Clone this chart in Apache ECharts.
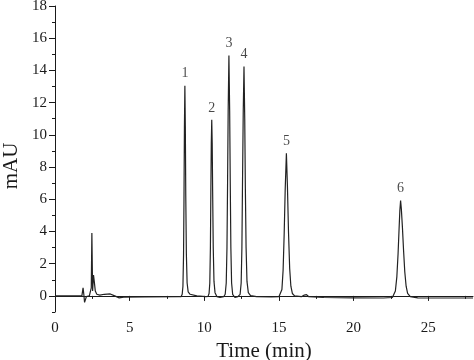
<!DOCTYPE html>
<html>
<head>
<meta charset="utf-8">
<script src="https://cdn.jsdelivr.net/npm/echarts@6/dist/echarts.min.js"></script>
<style>
html,body{margin:0;padding:0;background:#fff;}
#c{width:474px;height:360px;}
</style>
</head>
<body>
<div id="c"></div>
<script>
// Chromatogram trace: [time (min), signal (mAU)]
var trace = [
  [0,0],[1.8,0],[1.88,0.5],[1.93,0.1],[1.98,-0.4],[2.05,-0.2],[2.1,-0.05],[2.3,0.0],[2.38,-0.1],
  [2.43,0.5],[2.47,3.9],[2.52,0.3],[2.58,1.3],[2.63,0.9],[2.7,0.3],[2.8,0.1],[3.0,0.05],[3.3,0.1],
  [3.7,0.12],[4.0,0.0],[4.3,-0.12],[4.6,-0.08],[6,-0.07],[8.3,-0.05],
  [8.45,-0.04],[8.52,0.1],[8.57,0.6],[8.61,2.5],[8.64,6],[8.67,10.5],[8.7,13.05],[8.73,10.5],
  [8.76,6.2],[8.8,2.6],[8.85,0.8],[8.92,0.25],[9.05,0.1],[9.5,0.0],[10.1,-0.05],
  [10.25,-0.03],[10.32,0.15],[10.37,0.8],[10.41,3],[10.44,6.5],[10.47,9.5],[10.5,10.93],[10.53,9.5],
  [10.56,6.5],[10.6,3],[10.65,0.9],[10.72,0.2],[10.85,-0.05],[11.05,-0.1],[11.3,-0.05],
  [11.4,0.1],[11.47,0.8],[11.52,3],[11.56,7],[11.6,11.5],[11.65,14.93],[11.7,11.5],[11.74,7],
  [11.78,3],[11.83,0.8],[11.9,0.1],[12.05,-0.1],[12.25,-0.05],
  [12.4,0.1],[12.47,0.8],[12.52,3],[12.56,7],[12.61,11.5],[12.66,14.24],[12.71,11],[12.75,6.8],
  [12.8,3],[12.86,0.9],[12.95,0.2],[13.1,0.02],[13.5,-0.05],[14.5,-0.07],[15.0,-0.05],
  [15.1,0.05],[15.2,0.4],[15.28,1.6],[15.35,3.8],[15.42,6.6],[15.5,8.86],[15.57,6.8],[15.64,4],
  [15.72,1.7],[15.8,0.6],[15.9,0.15],[16.05,0.0],[16.5,-0.05],[16.7,0.05],[16.85,0.08],[17,-0.05],
  [18,-0.1],[20,-0.12],[22,-0.13],[22.6,-0.1],
  [22.7,0.0],[22.8,0.3],[22.9,1.2],[22.98,2.6],[23.05,4.2],[23.1,5.3],[23.15,5.92],[23.2,5.4],
  [23.27,4.3],[23.35,2.8],[23.43,1.5],[23.52,0.6],[23.62,0.15],[23.8,-0.05],[24.3,-0.12],
  [26,-0.13],[28,-0.13]
];
var peakNames = ['1','2','3','4','5','6'];
var peakTimes = [8.7, 10.5, 11.65, 12.66, 15.5, 23.15];
var peakHeights = [13.05, 10.93, 14.93, 14.24, 8.86, 5.92];
var xMajorTicks = [0,5,10,15,20,25];
var xMinorTicks = [2.5,7.5,12.5,17.5,22.5,27.5];
var yMajorTicks = [0,2,4,6,8,10,12,14,16,18];
var yMinorTicks = [-1,1,3,5,7,9,11,13,15,17];

var font = 'Liberation Serif';
var ink = '#1a1a1a';
var peakData = peakTimes.map(function(t,i){return {value:[t,peakHeights[i]], name:peakNames[i]};});

var chart = echarts.init(document.getElementById('c'), null, {renderer:'canvas'});
chart.setOption({
  animation:false,
  backgroundColor:'#fff',
  grid:{left:55,right:1,top:6,bottom:48,containLabel:false,outerBoundsMode:'none'},
  xAxis:[{
    type:'value', min:0, max:28,
    axisLine:{show:true,lineStyle:{color:ink,width:1}},
    axisTick:{show:true,length:5,customValues:xMajorTicks,lineStyle:{color:ink}},
    axisLabel:{customValues:xMajorTicks,color:ink,fontFamily:font,fontSize:15,margin:9},
    splitLine:{show:false},
    name:'Time (min)', nameLocation:'middle', nameGap:27,
    nameTextStyle:{color:ink,fontFamily:font,fontSize:21}
  },{
    type:'value', min:0, max:28, position:'bottom',
    axisLine:{show:false},
    axisTick:{show:true,length:3,customValues:xMinorTicks,lineStyle:{color:ink}},
    axisLabel:{show:false}, splitLine:{show:false}
  }],
  yAxis:[{
    type:'value', min:-1, max:18,
    axisLine:{show:true,lineStyle:{color:ink,width:1}},
    axisTick:{show:true,length:6,customValues:yMajorTicks,lineStyle:{color:ink}},
    axisLabel:{customValues:yMajorTicks,color:ink,fontFamily:font,fontSize:15,margin:8},
    splitLine:{show:false}
  },{
    type:'value', min:-1, max:18, position:'left',
    axisLine:{show:false},
    axisTick:{show:true,length:3,customValues:yMinorTicks,lineStyle:{color:ink}},
    axisLabel:{show:false}, splitLine:{show:false}
  }],
  graphic:[{
    type:'text', x:11, y:166, rotation:Math.PI/2,
    style:{text:'mAU', font:'21px "Liberation Serif"', fill:ink, textAlign:'center', textVerticalAlign:'middle'}
  }],
  series:[{
    type:'line', data:trace, showSymbol:false, symbol:'none',
    lineStyle:{color:'#222',width:1.2}, xAxisIndex:0, yAxisIndex:0, z:3
  },{
    type:'scatter', data:peakData, symbolSize:0, xAxisIndex:0, yAxisIndex:0,
    label:{show:true,position:'top',distance:5,formatter:'{b}',color:ink,fontFamily:font,fontSize:14}
  }]
});
</script>
</body>
</html>
